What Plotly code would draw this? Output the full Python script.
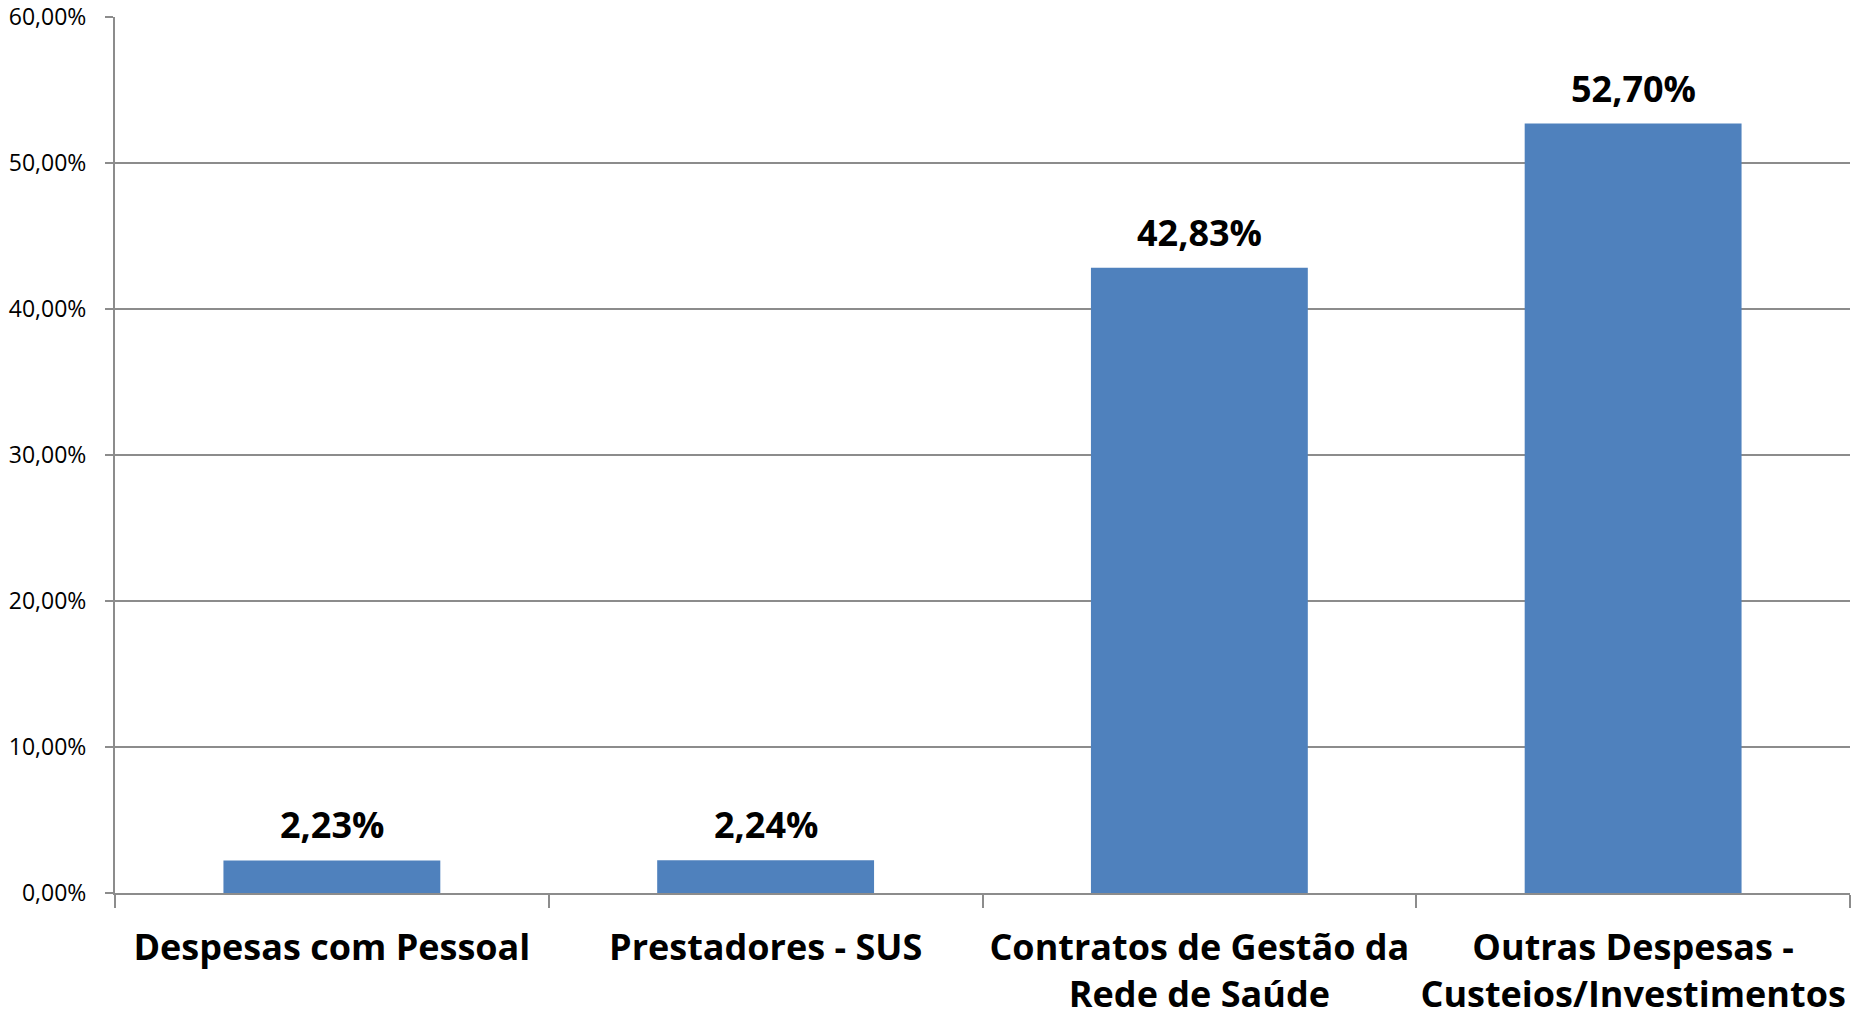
import plotly.graph_objects as go

# Distribuição das despesas por categoria (% do total)
categories = [
    "Despesas com Pessoal",
    "Prestadores - SUS",
    "Contratos de Gestão da<br>Rede de Saúde",
    "Outras Despesas -<br>Custeios/Investimentos",
]
values = [2.23, 2.24, 42.83, 52.70]

y_ticks = [0, 10, 20, 30, 40, 50, 60]

BAR_COLOR = "#4F81BD"
GRID_COLOR = "#8C8C8C"


def pct_label(v):
    return f"{v:.2f}".replace(".", ",") + "%"


fig = go.Figure(
    go.Bar(
        x=categories,
        y=values,
        marker=dict(color=BAR_COLOR, line=dict(width=0)),
        width=0.5,
        hoverinfo="skip",
    )
)

# Value labels above each bar
for cat, val in zip(categories, values):
    fig.add_annotation(
        x=cat,
        y=val,
        text=pct_label(val),
        showarrow=False,
        yanchor="bottom",
        xanchor="center",
        yshift=9,
        font=dict(family="Open Sans", size=36, color="#000000", weight="bold"),
    )

fig.update_layout(
    width=1852,
    height=1018,
    margin=dict(l=115, r=2, t=17, b=125, pad=0),
    paper_bgcolor="#FFFFFF",
    plot_bgcolor="#FFFFFF",
    separators=",.",
    showlegend=False,
    bargap=0.5,
)

fig.update_xaxes(
    showline=True,
    linecolor=GRID_COLOR,
    linewidth=2,
    showgrid=False,
    ticks="outside",
    tickson="boundaries",
    ticklen=13,
    tickwidth=2,
    tickcolor=GRID_COLOR,
    tickfont=dict(family="Open Sans", size=36, color="#000000", weight="bold"),
    ticklabelstandoff=22,
    tickangle=0,
    automargin=False,
    fixedrange=True,
)

fig.update_yaxes(
    range=[0, 60],
    tickvals=y_ticks,
    ticktext=[pct_label(t) for t in y_ticks],
    showline=True,
    linecolor=GRID_COLOR,
    linewidth=2,
    showgrid=True,
    gridcolor=GRID_COLOR,
    gridwidth=2,
    zeroline=False,
    ticks="outside",
    ticklen=8,
    tickwidth=2,
    tickcolor=GRID_COLOR,
    tickfont=dict(family="Open Sans", size=23, color="#000000"),
    ticklabelstandoff=14,
    automargin=False,
    fixedrange=True,
)

fig.write_html("out.html", config={"displayModeBar": False})
